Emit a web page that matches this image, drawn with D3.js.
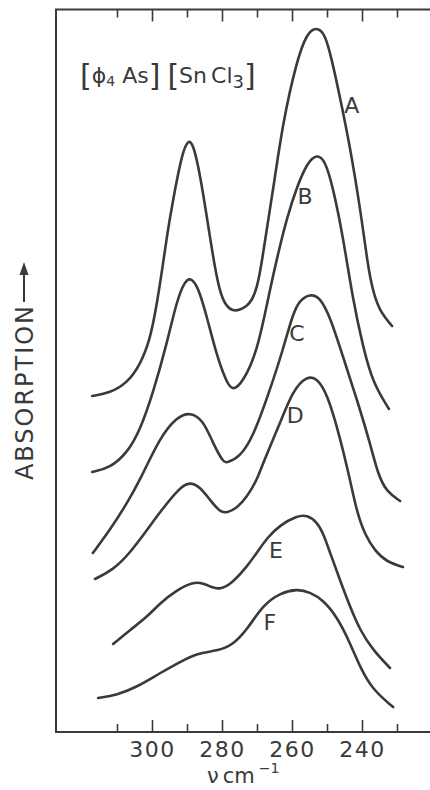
<!DOCTYPE html>
<html lang="en">
<head>
    <meta charset="UTF-8">
    <title>[φ4As][SnCl3] far-IR absorption</title>
    <script src="https://d3js.org/d3.v7.min.js"></script>
    <style>
        body {
            margin: 0;
            background: #fff;
        }
        svg {
            display: block;
            font-family: "DejaVu Sans", sans-serif;
        }
    </style>
</head>
<body>
    <div class="chart"></div>

    <script>
        // spectra: [wavenumber cm-1, absorption (arbitrary, offset per trace)]
        const curveNames = ['A', 'B', 'C', 'D', 'E', 'F'];
        const curveA = [[317.1,67.2],[312.0,67.8],[307.1,69.8],[303.4,73.4],[300.6,78.4],[298.9,84.4],[297.1,92.4],[295.7,99.4],[294.0,106.4],[291.4,115.8],[289.7,118.4],[288.3,117.8],[286.3,111.8],[283.4,98.8],[282.0,92.8],[280.6,88.0],[278.9,85.2],[276.9,84.2],[274.9,84.4],[272.9,85.2],[271.4,86.4],[270.0,88.8],[268.6,94.0],[266.9,102.0],[265.4,108.4],[262.6,122.0],[258.6,134.4],[255.7,139.8],[253.1,141.0],[250.6,139.8],[248.6,134.4],[246.3,127.0],[243.4,117.0],[240.6,105.0],[239.1,97.4],[238.0,92.0],[236.6,87.4],[234.6,83.8],[231.4,81.2]];
        const curveB = [[317.1,52.0],[312.0,52.8],[307.1,55.8],[303.4,60.4],[299.7,67.8],[295.7,77.8],[292.9,86.4],[290.0,91.4],[287.1,89.8],[284.3,83.0],[281.4,75.0],[278.6,69.8],[276.9,68.2],[274.0,70.0],[270.0,76.0],[267.1,85.8],[264.3,94.8],[261.4,103.0],[258.6,109.0],[255.7,113.8],[252.9,115.6],[250.6,114.4],[248.3,109.0],[245.4,99.0],[242.6,86.4],[239.7,77.0],[236.9,69.8],[232.3,64.6]];
        const curveC = [[316.9,35.8],[312.0,40.4],[307.1,45.8],[303.4,50.4],[297.7,59.0],[292.9,63.0],[289.1,64.0],[285.4,62.4],[282.6,57.8],[279.7,54.0],[278.6,53.8],[274.9,55.0],[271.1,59.0],[266.3,68.4],[262.6,76.4],[259.7,83.8],[257.7,86.4],[254.9,87.6],[252.0,87.0],[249.1,83.0],[245.4,75.0],[241.4,66.4],[237.7,57.8],[235.4,51.4],[232.9,48.0],[229.1,46.2]];
        const curveD = [[316.3,30.6],[311.1,32.4],[306.3,35.8],[301.4,40.4],[297.7,44.0],[292.0,49.0],[289.1,50.0],[286.3,49.0],[283.4,46.4],[280.6,44.0],[278.6,43.8],[275.7,44.8],[272.9,47.0],[270.0,50.4],[268.3,53.8],[263.4,61.8],[259.7,68.4],[255.7,71.2],[252.9,70.8],[250.0,67.8],[246.3,59.0],[243.4,50.4],[241.4,43.8],[239.1,39.4],[236.3,36.2],[232.9,34.0],[228.3,33.0]];
        const curveE = [[311.1,17.6],[306.3,20.4],[301.4,23.0],[297.7,25.8],[292.9,28.4],[288.3,30.0],[285.4,29.8],[282.6,28.8],[280.6,28.6],[277.7,29.4],[272.9,33.0],[269.1,36.8],[267.1,38.8],[263.4,41.4],[258.6,43.2],[255.7,43.4],[252.9,42.0],[251.1,39.8],[249.1,35.8],[246.3,30.4],[243.4,25.0],[240.6,20.4],[236.9,16.4],[232.0,12.8]];
        const curveF = [[315.4,6.8],[310.0,7.4],[304.3,9.0],[297.7,11.8],[292.0,14.0],[287.1,15.8],[281.4,16.2],[276.9,17.4],[272.9,20.4],[268.3,25.4],[263.4,27.8],[258.6,28.6],[254.9,28.0],[251.1,26.4],[247.1,23.0],[243.4,17.8],[240.6,13.0],[236.9,8.4],[231.1,5.0]];
        const curves = [curveA, curveB, curveC, curveD, curveE, curveF];

        // where each letter sits, in data units
        const labelWave = [242.9, 256.3, 258.6, 259.1, 264.6, 266.3];
        const labelAbs = [125.4, 107.2, 79.8, 63.4, 36.4, 22.0];

        const majorTicks = [300, 280, 260, 240];
        const minorTicks = [310, 290, 270, 250, 230];

        const ink = '#3a3a3a';
        const svgWidth = 430;
        const svgHeight = 790;
        const box = { left: 56, top: 9.5, right: 431, bottom: 732 };

        const svg = d3.select('.chart')
            .append('svg')
            .attr('width', svgWidth)
            .attr('height', svgHeight);

        const x = d3.scaleLinear().domain([300, 240]).range([152, 362]);
        const y = d3.scaleLinear().domain([0, 140]).range([box.bottom, 32]);
        const allTicks = minorTicks.concat(majorTicks);

        // bottom axis, ticks pointing inwards
        const bottomAxis = svg.append('g')
            .attr('transform', `translate(0,${box.bottom})`)
            .call(d3.axisBottom(x)
                .tickValues(allTicks)
                .tickSizeInner(-8)
                .tickSizeOuter(0)
                .tickFormat(d => majorTicks.includes(d) ? d : ''));
        bottomAxis.select('.domain').remove();
        bottomAxis.attr('font-family', null).attr('font-size', 22);
        bottomAxis.selectAll('.tick line')
            .attr('y2', d => majorTicks.includes(d) ? -12 : -8)
            .attr('stroke', ink)
            .attr('stroke-width', 1.6);
        bottomAxis.selectAll('.tick text')
            .attr('y', 24.5)
            .attr('dy', 0)
            .attr('fill', ink)
            .style('letter-spacing', '1.5px');

        // top axis, same ticks, no labels
        const topAxis = svg.append('g')
            .attr('transform', `translate(0,${box.top})`)
            .call(d3.axisTop(x)
                .tickValues(allTicks)
                .tickSizeInner(-8)
                .tickSizeOuter(0)
                .tickFormat(''));
        topAxis.select('.domain').remove();
        topAxis.selectAll('.tick line')
            .attr('y2', d => majorTicks.includes(d) ? 12 : 8)
            .attr('stroke', ink)
            .attr('stroke-width', 1.6);

        // frame
        svg.append('rect')
            .attr('x', box.left)
            .attr('y', box.top)
            .attr('width', box.right - box.left)
            .attr('height', box.bottom - box.top)
            .attr('fill', 'none')
            .attr('stroke', ink)
            .attr('stroke-width', 2);

        const line = d3.line()
            .x(d => x(d[0]))
            .y(d => y(d[1]))
            .curve(d3.curveBasis);

        svg.selectAll('.trace')
            .data(curves)
            .enter()
            .append('path')
            .attr('class', 'trace')
            .attr('d', line)
            .attr('fill', 'none')
            .attr('stroke', ink)
            .attr('stroke-width', 2.6)
            .attr('stroke-linecap', 'round');

        svg.selectAll('.trace-label')
            .data(curveNames)
            .enter()
            .append('text')
            .attr('class', 'trace-label')
            .attr('x', (d, i) => x(labelWave[i]))
            .attr('y', (d, i) => y(labelAbs[i]))
            .attr('dy', '0.36em')
            .attr('text-anchor', 'middle')
            .attr('font-size', 22)
            .attr('fill', ink)
            .text(d => d);

        // compound name
        const title = svg.append('text')
            .attr('x', 80)
            .attr('y', 83)
            .attr('fill', ink)
            .attr('font-size', 22);
        const parts = [
            { t: '[', size: 30, dy: 3 },
            { t: 'ϕ', size: 22, dy: -3 },
            { t: '4', size: 14, dy: 3 },
            { t: ' As', size: 22, dy: -3 },
            { t: ']', size: 30, dy: 3 },
            { t: ' ', size: 22, dy: 0 },
            { t: '[', size: 30, dy: 0 },
            { t: 'Sn', size: 22, dy: -3 },
            { t: 'Cl', size: 22, dy: 0, dx: 4 },
            { t: '3', size: 18, dy: 5 },
            { t: ']', size: 30, dy: -2 }
        ];
        parts.forEach(p => {
            title.append('tspan')
                .attr('font-size', p.size)
                .attr('dy', p.dy)
                .attr('dx', p.dx || 0)
                .text(p.t);
        });

        // y axis caption with arrow
        svg.append('text')
            .attr('transform', 'translate(33,480) rotate(-90)')
            .attr('font-size', 24)
            .attr('fill', ink)
            .attr('textLength', 174)
            .attr('lengthAdjust', 'spacing')
            .text('ABSORPTION');
        svg.append('line')
            .attr('x1', 24).attr('x2', 24)
            .attr('y1', 302).attr('y2', 272)
            .attr('stroke', ink)
            .attr('stroke-width', 2);
        svg.append('path')
            .attr('d', 'M24,262 L19.5,275 L28.5,275 Z')
            .attr('fill', ink);

        // x axis caption
        const xTitle = svg.append('text')
            .attr('x', 207)
            .attr('y', 783)
            .attr('font-size', 21)
            .attr('fill', ink);
        xTitle.append('tspan').text('ν');
        xTitle.append('tspan').attr('dx', 4).text('cm');
        xTitle.append('tspan')
            .attr('dx', 4)
            .attr('dy', -10)
            .attr('font-size', 14)
            .text('−1');
    </script>
</body>
</html>
